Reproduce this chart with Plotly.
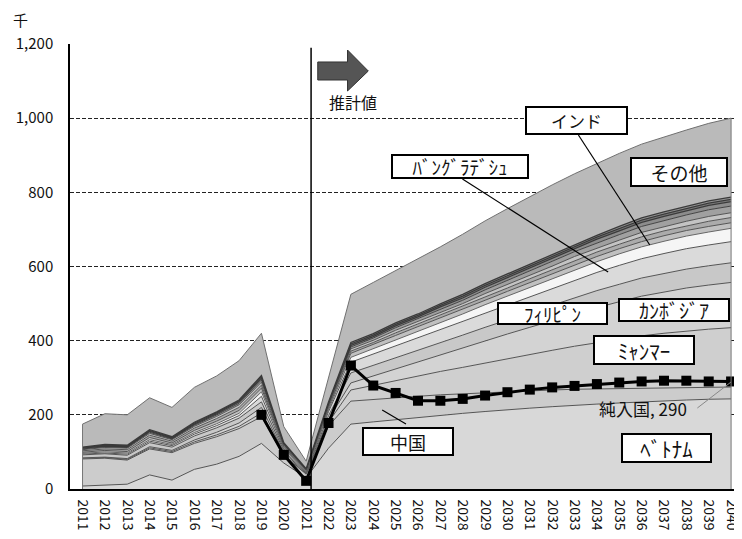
import plotly.graph_objects as go

years = list(range(2011, 2041))
year_labels = [str(y) for y in years]

vietnam = [8,11,13,38,24,53,67,88,123,70,30,110,175,181,187,193,199,204,209,214,218,222,226,229,232,235,238,240,242,243]
china = [73,72,65,70,74,70,74,75,72,20,10,60,62,61,59,57,55,53,51,49,47,45,43,41,39,37,36,34,33,32]
myanmar = [2,2,2,3,3,4,5,6,10,3,1,10,30,38,47,55,63,71,80,89,98,107,116,125,133,141,146,152,156,160]
cambodia = [1,1,2,3,3,5,7,9,15,5,2,8,19,25,32,38,45,52,59,66,73,80,87,94,101,107,111,116,119,122]
philippines = [8,9,9,11,9,11,12,13,15,5,2,10,27,28,30,32,33,35,37,38,40,42,44,46,47,49,50,51,52,53]
bangladesh = [2,2,3,4,4,5,6,7,15,5,2,11,29,31,32,34,36,37,39,41,43,45,47,49,51,52,54,55,56,57]
india = [2,3,3,4,3,4,5,6,12,4,2,5,13,14,16,17,18,20,22,23,25,26,28,29,31,32,33,34,35,36]
nepal = [3,4,4,6,4,6,7,8,10,3,1,6,11,11,11,12,12,12,12,13,13,13,14,14,14,14,15,15,15,15]
indonesia = [4,4,5,6,5,6,7,8,8,3,1,4,6,6,7,7,8,8,9,9,10,11,11,12,12,13,13,13,14,14]
thailand = [3,4,4,5,4,5,6,7,8,2,1,3,6,6,7,7,8,8,9,9,10,10,11,11,11,12,12,12,13,13]
srilanka = [2,2,2,3,2,3,4,4,6,2,1,3,5,6,7,7,8,9,10,11,12,13,13,14,15,16,16,17,18,18]
pakistan = [2,2,2,3,2,3,3,4,5,1,1,2,4,4,5,5,6,6,7,8,8,9,9,10,10,11,11,11,12,12]
mongolia = [2,2,2,2,2,3,3,3,4,1,0.5,2,4,4,4,4,4,5,5,5,5,5,5,5,6,6,6,6,6,6]
uzbekistan = [1,2,2,2,2,2,2,2,3,1,0.5,1,4,4,4,4,4,5,5,5,5,5,5,5,6,6,6,6,6,6]
others = [62,83,82,86,79,94,97,106,114,43,20,65,130,138,141,147,154,162,169,176,182,187,191,194,197,199,203,206,209,213]
net_inflow = [None]*8 + [200,92,22,178,333,279,259,238,238,243,252,261,268,274,278,283,287,290,292,292,290,290]

layers = [
    ("ベトナム", vietnam, "#d8d8d8", "#555555", 1.0),
    ("中国", china, "#cccccc", "#555555", 1.0),
    ("ミャンマー", myanmar, "#cfcfcf", "#555555", 1.0),
    ("カンボジア", cambodia, "#d3d3d3", "#555555", 1.0),
    ("フィリピン", philippines, "#c8c8c8", "#555555", 1.0),
    ("バングラデシュ", bangladesh, "#dadada", "#555555", 1.0),
    ("インド", india, "#f5f5f5", "#666666", 1.0),
    ("ネパール", nepal, "#c0c0c0", "#555555", 1.0),
    ("インドネシア", indonesia, "#ababab", "#555555", 1.0),
    ("タイ", thailand, "#c4c4c4", "#555555", 1.0),
    ("スリランカ", srilanka, "#a0a0a0", "#444444", 1.0),
    ("パキスタン", pakistan, "#8c8c8c", "#3a3a3a", 1.3),
    ("モンゴル", mongolia, "#7c7c7c", "#3a3a3a", 1.3),
    ("ウズベキスタン", uzbekistan, "#979797", "#3a3a3a", 1.3),
    ("その他", others, "#bababa", "#707070", 1.0),
]

fig = go.Figure()
for name, vals, fc, lc, lw in layers:
    fig.add_trace(go.Scatter(
        x=years, y=vals, name=name, mode="lines", stackgroup="one",
        fillcolor=fc, line=dict(color=lc, width=lw),
    ))

fig.add_trace(go.Scatter(
    x=years, y=net_inflow, name="純入国", mode="lines+markers",
    line=dict(color="black", width=3),
    marker=dict(symbol="square", size=10, color="black"),
))

# page body has an 8px margin: figure is sized/offset so the plot area
# sits at page pixels x 70..742, y 44..489
W, H = 734, 531
L, R, T, B = 62, 0, 36, 50
PW, PH = W - L - R, H - T - B
OFF = 8


def px(x, y):
    return (x - OFF - L) / PW, (H - B - (y - OFF)) / PH


annotations = []


def text_at(xp, yp, text, size, **kw):
    ax, ay = px(xp, yp)
    d = dict(x=ax, y=ay, xref="paper", yref="paper", text=text, showarrow=False,
             xanchor="center", yanchor="middle",
             font=dict(size=size, color="#111", family="Noto Sans CJK JP"))
    d.update(kw)
    annotations.append(d)


def box_at(x0, y0, x1, y1, text, size=17):
    text_at((x0 + x1) / 2, (y0 + y1) / 2, text, size,
            bgcolor="white", bordercolor="black", borderwidth=2, borderpad=0,
            width=x1 - x0 - 4, height=y1 - y0 - 4)


text_at(20, 19, "千", 15)
text_at(356, 102, "推計値", 16)
box_at(530, 106, 633, 135, "インド", 17)
box_at(395, 154, 533, 179, "ﾊﾞﾝｸﾞﾗﾃﾞｼｭ", 19)
box_at(635, 157, 733, 187, "その他", 19)
box_at(501, 302, 612, 325, "ﾌｨﾘﾋﾟﾝ", 19)
box_at(623, 298, 735, 322, "ｶﾝﾎﾞｼﾞｱ", 20)
box_at(598, 335, 700, 365, "ﾐｬﾝﾏｰ", 21)
box_at(365, 427, 457, 456, "中国", 18)
box_at(626, 433, 717, 463, "ﾍﾞﾄﾅﾑ", 21)
text_at(648, 408, "純入国, 290", 17)

shapes = []


def seg(p0, p1, color="black", width=1.2):
    a = px(*p0)
    b = px(*p1)
    shapes.append(dict(type="line", xref="paper", yref="paper",
                       x0=a[0], y0=a[1], x1=b[0], y1=b[1],
                       line=dict(color=color, width=width), layer="above"))


seg((583, 135), (655, 245))
seg((466, 179), (613, 272))
seg((385, 410), (409, 424))
seg((703, 408), (737, 382), color="#888888", width=1)

# left/right edges of the stacked areas
stack_end = sum(vals[-1] for _, vals, _, _, _ in layers)
stack_start = sum(vals[0] for _, vals, _, _, _ in layers)
shapes.append(dict(type="line", xref="x", yref="y", x0=years[-1], x1=years[-1], y0=0, y1=stack_end,
                   line=dict(color="#777777", width=1)))
shapes.append(dict(type="line", xref="x", yref="y", x0=years[0], x1=years[0], y0=0, y1=stack_start,
                   line=dict(color="#777777", width=1)))

# estimate boundary line
shapes.append(dict(type="line", xref="x", yref="y", x0=2021.22, x1=2021.22, y0=0, y1=1190,
                   line=dict(color="black", width=1.5), layer="above"))

# block arrow
arrow_pts = [(320, 62), (350, 62), (350, 50), (371, 71), (350, 91), (350, 80), (320, 80)]
path = "M " + " L ".join(f"{px(a, b)[0]:.4f},{px(a, b)[1]:.4f}" for a, b in arrow_pts) + " Z"
shapes.append(dict(type="path", xref="paper", yref="paper", path=path,
                   fillcolor="#555555", line=dict(color="#333333", width=1), layer="above"))

fig.update_layout(
    width=W, height=H,
    margin=dict(l=L, r=R, t=T, b=B, pad=0),
    plot_bgcolor="white", paper_bgcolor="white",
    showlegend=False,
    font=dict(family="Noto Sans CJK JP", color="#222"),
    annotations=annotations,
    shapes=shapes,
    xaxis=dict(
        range=[2010.44, 2040.22],
        tickmode="array", tickvals=years, ticktext=year_labels,
        tickangle=90, tickfont=dict(size=14, color="#111"),
        showgrid=False, zeroline=False,
        showline=True, linecolor="black", linewidth=1.5,
        ticks="", ticklabelstandoff=6, ticklabeloverflow="allow",
    ),
    yaxis=dict(
        range=[0, 1200],
        tickmode="array", tickvals=[0, 200, 400, 600, 800, 1000, 1200],
        ticktext=["0", "200", "400", "600", "800", "1,000", "1,200"],
        tickfont=dict(size=15, color="#111"),
        showgrid=True, gridcolor="#222222", gridwidth=1, griddash="4px,2px",
        zeroline=False,
        showline=True, linecolor="black", linewidth=1.5,
        ticks="", ticklabelstandoff=12,
    ),
)

fig.write_html("out.html")
